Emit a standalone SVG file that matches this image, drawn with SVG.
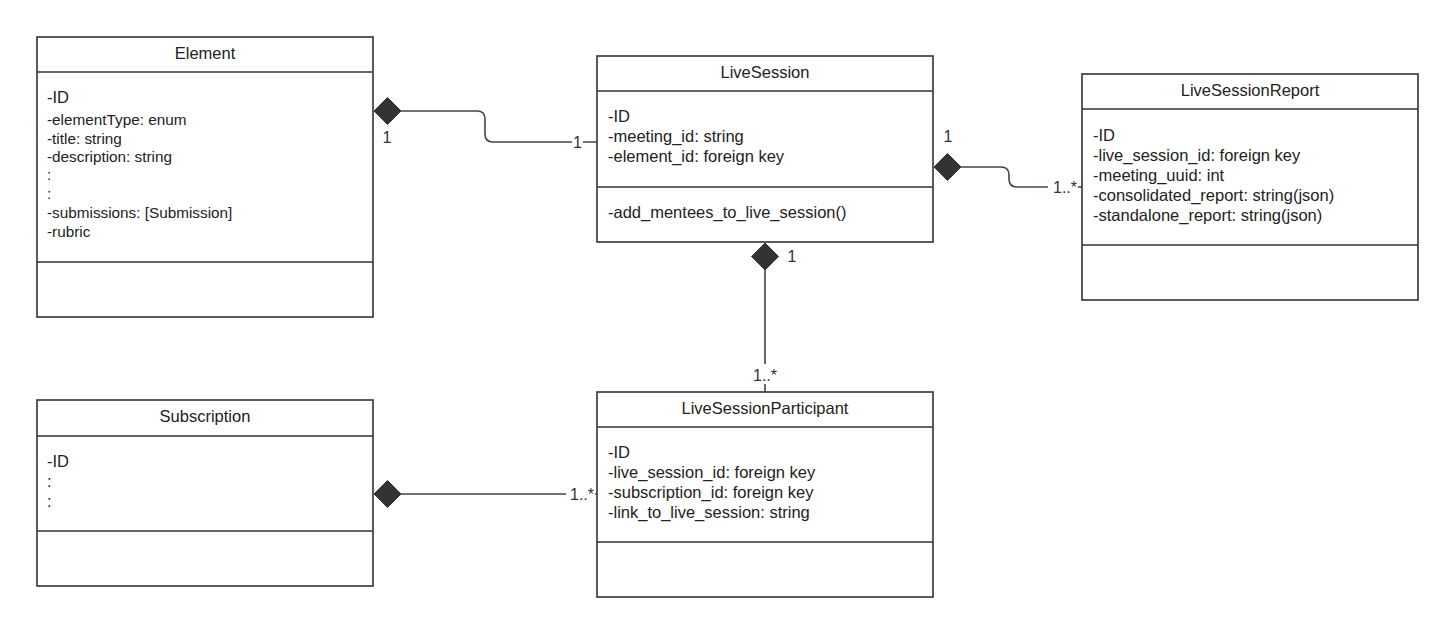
<svg xmlns="http://www.w3.org/2000/svg" width="1456" height="635" viewBox="0 0 1456 635">
<style>
.box{fill:#fff;stroke:#333;stroke-width:1.6}
.div{stroke:#333;stroke-width:1.6}
.hd{font-family:"Liberation Sans",Arial,sans-serif;font-size:16.5px;fill:#222;text-anchor:middle}
.at{font-family:"Liberation Sans",Arial,sans-serif;font-size:16.5px;fill:#222}
.ats{font-family:"Liberation Sans",Arial,sans-serif;font-size:15.3px;fill:#222}
.ln{fill:none;stroke:#444;stroke-width:1.6}
.dm{fill:#333;stroke:#333;stroke-width:1}
.bg{fill:#fff}
.lb{font-family:"Liberation Sans",Arial,sans-serif;font-size:16px;fill:#333}
</style>
<rect width="1456" height="635" fill="#fff"/>
<g id="connectors">
<path class="ln" d="M401,111 H477 Q485,111 485,119 V134 Q485,142 493,142 H597"/>
<polygon class="dm" points="374,111 387.5,97.5 401,111 387.5,124.5"/>
<text class="lb" x="387" y="143" text-anchor="middle">1</text>
<rect class="bg" x="572" y="133" width="11" height="18"/>
<text class="lb" x="577.5" y="148" text-anchor="middle">1</text>
<path class="ln" d="M961,167 H1001 Q1009,167 1009,175 V179 Q1009,187 1017,187 H1082"/>
<polygon class="dm" points="934,167 947.5,153.5 961,167 947.5,180.5"/>
<text class="lb" x="948" y="142" text-anchor="middle">1</text>
<rect class="bg" x="1048" y="178" width="30" height="18"/>
<text class="lb" x="1077" y="193" text-anchor="end">1..*</text>
<path class="ln" d="M765,270 V392"/>
<polygon class="dm" points="765,243 778.5,256.5 765,270 751.5,256.5"/>
<text class="lb" x="792" y="262" text-anchor="middle">1</text>
<rect class="bg" x="750" y="364" width="30" height="20"/>
<text class="lb" x="765" y="381" text-anchor="middle">1..*</text>
<path class="ln" d="M401,494 H597"/>
<polygon class="dm" points="374,494 387.5,480.5 401,494 387.5,507.5"/>
<rect class="bg" x="566" y="485" width="29" height="18"/>
<text class="lb" x="594" y="500" text-anchor="end">1..*</text>
</g>
<g id="element">
<rect class="box" x="37" y="37" width="336" height="280"/>
<line class="div" x1="37" y1="72" x2="373" y2="72"/>
<line class="div" x1="37" y1="262" x2="373" y2="262"/>
<text class="hd" x="205" y="59">Element</text>
<text class="at" x="47" y="103">-ID</text>
<text class="ats" x="47" y="125">-elementType: enum</text>
<text class="ats" x="47" y="144">-title: string</text>
<text class="ats" x="47" y="162">-description: string</text>
<text class="ats" x="47" y="180">:</text>
<text class="ats" x="47" y="199">:</text>
<text class="ats" x="47" y="218">-submissions: [Submission]</text>
<text class="ats" x="47" y="237">-rubric</text>
</g>
<g id="livesession">
<rect class="box" x="597" y="56" width="336" height="186"/>
<line class="div" x1="597" y1="91" x2="933" y2="91"/>
<line class="div" x1="597" y1="187" x2="933" y2="187"/>
<text class="hd" x="765" y="78">LiveSession</text>
<text class="at" x="608" y="122">-ID</text>
<text class="at" x="608" y="142">-meeting_id: string</text>
<text class="at" x="608" y="162">-element_id: foreign key</text>
<text class="at" x="608" y="218">-add_mentees_to_live_session()</text>
</g>
<g id="livesessionreport">
<rect class="box" x="1082" y="74" width="336" height="226"/>
<line class="div" x1="1082" y1="109" x2="1418" y2="109"/>
<line class="div" x1="1082" y1="245" x2="1418" y2="245"/>
<text class="hd" x="1250" y="96">LiveSessionReport</text>
<text class="at" x="1093" y="141">-ID</text>
<text class="at" x="1093" y="161">-live_session_id: foreign key</text>
<text class="at" x="1093" y="181">-meeting_uuid: int</text>
<text class="at" x="1093" y="201">-consolidated_report: string(json)</text>
<text class="at" x="1093" y="221">-standalone_report: string(json)</text>
</g>
<g id="subscription">
<rect class="box" x="37" y="400" width="336" height="186"/>
<line class="div" x1="37" y1="436" x2="373" y2="436"/>
<line class="div" x1="37" y1="531" x2="373" y2="531"/>
<text class="hd" x="205" y="422">Subscription</text>
<text class="at" x="47" y="467">-ID</text>
<text class="at" x="47" y="487">:</text>
<text class="at" x="47" y="507">:</text>
</g>
<g id="livesessionparticipant">
<rect class="box" x="597" y="392" width="336" height="205"/>
<line class="div" x1="597" y1="427" x2="933" y2="427"/>
<line class="div" x1="597" y1="542" x2="933" y2="542"/>
<text class="hd" x="765" y="414">LiveSessionParticipant</text>
<text class="at" x="608" y="458">-ID</text>
<text class="at" x="608" y="478">-live_session_id: foreign key</text>
<text class="at" x="608" y="498">-subscription_id: foreign key</text>
<text class="at" x="608" y="518">-link_to_live_session: string</text>
</g>
</svg>
